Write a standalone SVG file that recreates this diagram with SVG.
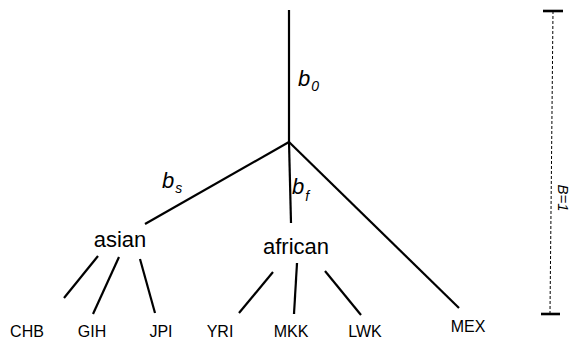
<svg xmlns="http://www.w3.org/2000/svg" width="574" height="341" viewBox="0 0 574 341">
<style>
.e{stroke:#000;stroke-width:2.2;fill:none;stroke-linecap:butt}
.t{font-family:"Liberation Sans",Arial,sans-serif;fill:#000}
.n{font-size:22px}
.l{font-size:16px}
.b{font-size:22px;font-style:italic}
.s{font-size:14px;font-style:italic}
</style>
<rect width="574" height="341" fill="#fff"/>
<g id="connectors">
<line class="e" x1="289" y1="10" x2="289" y2="142"/>
<line class="e" x1="289" y1="142" x2="145" y2="224"/>
<line class="e" x1="289" y1="142" x2="291" y2="223"/>
<line class="e" x1="289" y1="142" x2="459" y2="308"/>
<line class="e" x1="98" y1="256" x2="64" y2="298"/>
<line class="e" x1="119" y1="257" x2="93" y2="314"/>
<line class="e" x1="140" y1="259" x2="155" y2="313"/>
<line class="e" x1="273" y1="272" x2="239" y2="313"/>
<line class="e" x1="297" y1="263" x2="294" y2="314"/>
<line class="e" x1="325" y1="271" x2="361" y2="315"/>
</g>
<g id="labels">
<text class="t b" x="298" y="86">b<tspan class="s" dx="1" dy="5">0</tspan></text>
<text class="t b" x="162" y="188">b<tspan class="s" dx="1" dy="5">s</tspan></text>
<text class="t b" x="292" y="194">b<tspan class="s" dx="1" dy="7">f</tspan></text>
</g>
<g id="asian"><text class="t n" x="120" y="247" text-anchor="middle">asian</text></g>
<g id="african"><text class="t n" x="296" y="254" text-anchor="middle">african</text></g>
<g id="CHB"><text class="t l" x="27" y="337" text-anchor="middle">CHB</text></g>
<g id="GIH"><text class="t l" x="92" y="337" text-anchor="middle">GIH</text></g>
<g id="JPI"><text class="t l" x="161" y="337" text-anchor="middle">JPI</text></g>
<g id="YRI"><text class="t l" x="220" y="337" text-anchor="middle">YRI</text></g>
<g id="MKK"><text class="t l" x="291" y="337" text-anchor="middle">MKK</text></g>
<g id="LWK"><text class="t l" x="365" y="337" text-anchor="middle">LWK</text></g>
<g id="MEX"><text class="t l" x="468" y="332" text-anchor="middle">MEX</text></g>
<g id="scale">
<line x1="553" y1="11" x2="550" y2="313" stroke="#000" stroke-width="1" stroke-dasharray="3,2"/>
<line class="e" x1="543" y1="11" x2="563" y2="11" style="stroke-width:2.6"/>
<line class="e" x1="541" y1="314" x2="560" y2="314" style="stroke-width:2.6"/>
<text class="t" x="198" y="-558" transform="rotate(90)" text-anchor="middle" font-size="15" font-style="italic">B=1</text>
</g>
</svg>
